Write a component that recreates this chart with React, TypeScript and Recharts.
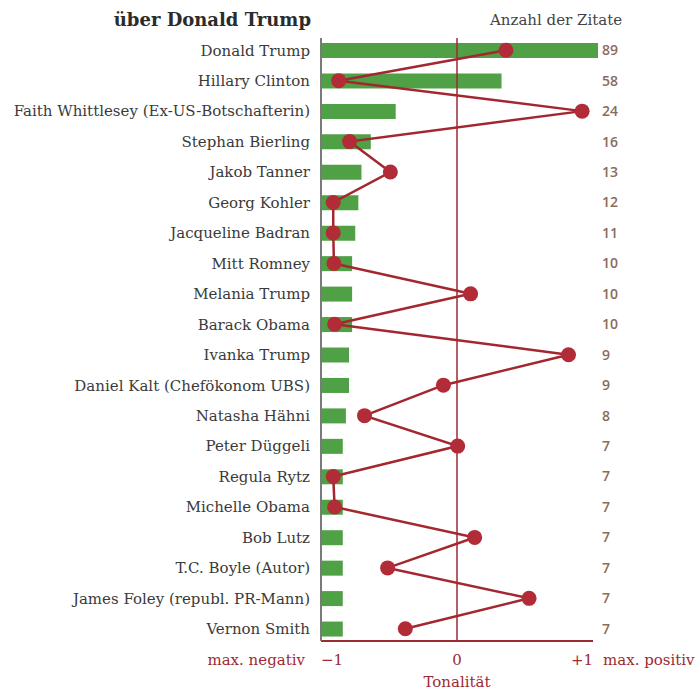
import React from "react";
import {
  ComposedChart,
  Bar,
  Line,
  XAxis,
  YAxis,
  ReferenceLine,
  Label,
} from "recharts";

const names = [
  "Donald Trump",
  "Hillary Clinton",
  "Faith Whittlesey (Ex-US-Botschafterin)",
  "Stephan Bierling",
  "Jakob Tanner",
  "Georg Kohler",
  "Jacqueline Badran",
  "Mitt Romney",
  "Melania Trump",
  "Barack Obama",
  "Ivanka Trump",
  "Daniel Kalt (Chefökonom UBS)",
  "Natasha Hähni",
  "Peter Düggeli",
  "Regula Rytz",
  "Michelle Obama",
  "Bob Lutz",
  "T.C. Boyle (Autor)",
  "James Foley (republ. PR-Mann)",
  "Vernon Smith",
];

const counts = [89, 58, 24, 16, 13, 12, 11, 10, 10, 10, 9, 9, 8, 7, 7, 7, 7, 7, 7, 7];

const tones = [
  0.36, -0.87, 0.92, -0.79, -0.49, -0.91, -0.91, -0.905, 0.1, -0.9, 0.82, -0.1,
  -0.68, 0.005, -0.91, -0.9, 0.13, -0.51, 0.53, -0.38,
];

const toneTicks = [-1, 0, 1];
const toneTickLabels: Record<number, string> = { [-1]: "\u22121", 0: "0", 1: "+1" };
const leftEndLabel = "max. negativ";
const rightEndLabel = "max. positiv";

const rows = names.map((name, i) => ({ name, count: counts[i], tone: tones[i] }));

const RED = "#9c2a31";
const SERIF = "'DejaVu Serif', serif";

const ToneTick = (props: any) => {
  const { x, y, payload } = props;
  const v = payload.value;
  const baseY = y + 24;
  if (v === -1) {
    return (
      <g>
        <text x={x - 16} y={baseY} textAnchor="end" fill={RED} fontSize={15} fontFamily={SERIF}>
          {leftEndLabel}
        </text>
        <text x={x} y={baseY} textAnchor="start" fill={RED} fontSize={15} fontFamily={SERIF}>
          {toneTickLabels[v]}
        </text>
      </g>
    );
  }
  if (v === 1) {
    return (
      <g>
        <text x={x} y={baseY} textAnchor="end" fill={RED} fontSize={15} fontFamily={SERIF}>
          {toneTickLabels[v]}
        </text>
        <text x={x + 10} y={baseY} textAnchor="start" fill={RED} fontSize={15} fontFamily={SERIF}>
          {rightEndLabel}
        </text>
      </g>
    );
  }
  return (
    <text x={x} y={baseY} textAnchor="middle" fill={RED} fontSize={15} fontFamily={SERIF}>
      {toneTickLabels[v]}
    </text>
  );
};

export default function App() {
  return (
    <div style={{ position: "absolute", left: 0, top: 0, width: 700, height: 691, background: "#fff" }}>
      <div
        style={{
          position: "absolute",
          right: 389,
          top: 9,
          fontFamily: SERIF,
          fontWeight: "bold",
          fontSize: 18,
          lineHeight: "22px",
          color: "#2b2b2b",
          whiteSpace: "nowrap",
        }}
      >
        über Donald Trump
      </div>
      <div
        style={{
          position: "absolute",
          left: 490,
          top: 10,
          fontFamily: SERIF,
          fontSize: 15,
          lineHeight: "20px",
          color: "#444",
          whiteSpace: "nowrap",
        }}
      >
        Anzahl der Zitate
      </div>
      <ComposedChart
        width={700}
        height={691}
        data={rows}
        layout="vertical"
        margin={{ top: 38, right: 0, bottom: 0, left: 0 }}
      >
        <XAxis
          xAxisId="count"
          type="number"
          orientation="top"
          domain={[0, 89]}
          padding={{ left: 0, right: -5 }}
          hide
        />
        <XAxis
          xAxisId="tone"
          type="number"
          domain={[-1, 1]}
          ticks={toneTicks}
          axisLine={{ stroke: RED, strokeWidth: 2 }}
          tickLine={false}
          tickSize={0}
          tickMargin={0}
          height={50}
          tick={<ToneTick />}
          interval={0}
        >
          <Label
            value="Tonalität"
            position="insideBottom"
            offset={4}
            fill={RED}
            fontSize={15}
            fontFamily={SERIF}
          />
        </XAxis>
        <YAxis
          type="category"
          dataKey="name"
          width={321}
          padding={{ top: -3, bottom: -3 }}
          axisLine={{ stroke: "#7a7a7a", strokeWidth: 2 }}
          tickLine={false}
          tickMargin={5}
          interval={0}
          tick={{ fill: "#3a3a3a", fontSize: 15, fontFamily: SERIF }}
        />
        <YAxis
          yAxisId="right"
          orientation="right"
          type="category"
          dataKey="count"
          width={107}
          padding={{ top: -3, bottom: -3 }}
          axisLine={false}
          tickLine={false}
          tickSize={0}
          tickMargin={9}
          interval={0}
          tick={{ fill: "#8b6b5b", fontSize: 14, fontFamily: "'Open Sans', sans-serif", fontWeight: 600 }}
        />
        <Bar
          xAxisId="count"
          dataKey="count"
          barSize={15}
          fill="#50a046"
          isAnimationActive={false}
        />
        <ReferenceLine xAxisId="tone" x={0} stroke={RED} strokeWidth={1.5} />
        <Line
          xAxisId="tone"
          dataKey="tone"
          type="linear"
          stroke="#a3272f"
          strokeWidth={2.5}
          dot={{ r: 7.5, fill: "#b12c36", stroke: "none" }}
          activeDot={false}
          isAnimationActive={false}
        />
      </ComposedChart>
    </div>
  );
}
